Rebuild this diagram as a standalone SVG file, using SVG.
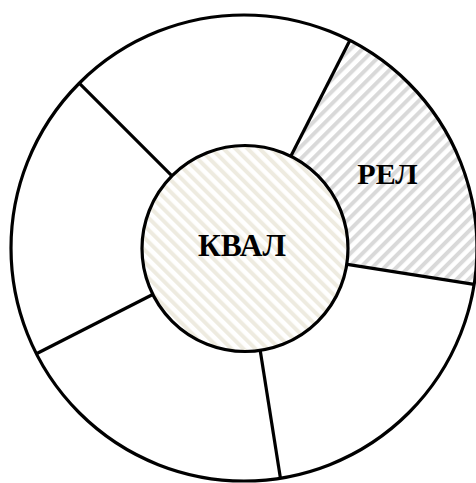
<svg xmlns="http://www.w3.org/2000/svg" width="476" height="483" viewBox="0 0 476 483">
  <style>
    .ln { stroke: #000; stroke-width: 3.2; fill: none; }
    .lbl { font-family: "Liberation Serif", "Times New Roman", serif; font-weight: bold; fill: #000; text-anchor: middle; }
  </style>
  <defs>
    <pattern id="hatchGray" patternUnits="userSpaceOnUse" width="8.5" height="8.5" patternTransform="rotate(45)">
      <rect width="8.5" height="8.5" fill="#ffffff"/>
      <rect x="0" y="0" width="4" height="8.5" fill="#d9d9d9"/>
    </pattern>
    <pattern id="hatchBeige" patternUnits="userSpaceOnUse" width="8.5" height="8.5" patternTransform="rotate(-45)">
      <rect width="8.5" height="8.5" fill="#ffffff"/>
      <rect x="0" y="0" width="4" height="8.5" fill="#eeebe0"/>
    </pattern>
  </defs>
  <rect width="476" height="483" fill="#ffffff"/>
  <g id="ring">
    <circle cx="244" cy="248" r="233" fill="#ffffff"/>
  </g>
  <g id="rel">
    <path d="M244,248 L349.8,40.4 A233,233 0 0 1 474.1,284.4 Z" fill="url(#hatchGray)"/>
    <text class="lbl" x="387.5" y="184" font-size="30">РЕЛ</text>
  </g>
  <g id="ring-outline">
    <circle class="ln" cx="244" cy="248" r="233"/>
  </g>
  <g id="connectors">
    <line class="ln" x1="345.7" y1="264.1" x2="474.1" y2="284.4"/>
    <line class="ln" x1="260.1" y1="349.7" x2="280.4" y2="478.1"/>
    <line class="ln" x1="152.2" y1="294.8" x2="36.4" y2="353.8"/>
    <line class="ln" x1="171.2" y1="175.2" x2="79.2" y2="83.2"/>
    <line class="ln" x1="290.8" y1="156.2" x2="349.8" y2="40.4"/>
  </g>
  <g id="kval">
    <circle cx="245" cy="248.5" r="103" fill="url(#hatchBeige)" stroke="#000" stroke-width="3.2"/>
    <text class="lbl" x="242" y="256" font-size="31.5">КВАЛ</text>
  </g>
</svg>
